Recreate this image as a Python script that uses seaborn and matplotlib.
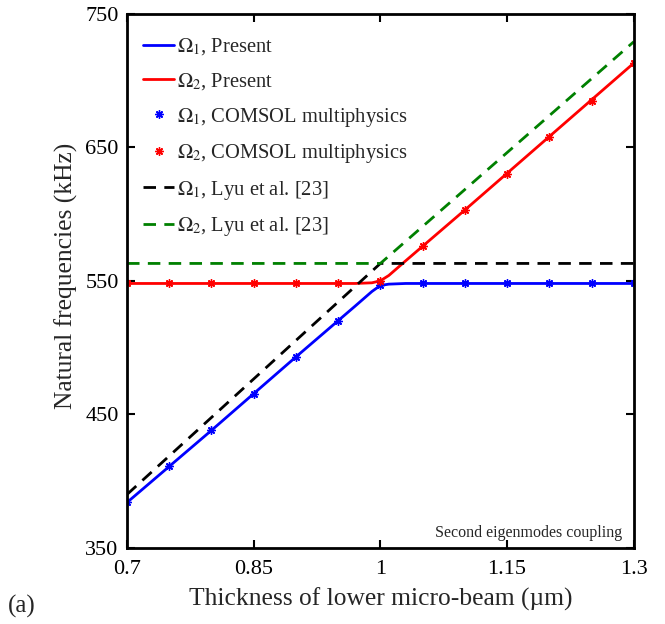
import numpy as np
import matplotlib
matplotlib.use("Agg")
import matplotlib.pyplot as plt
import seaborn as sns

# Thickness of the lower micro-beam (um)
thickness_comsol = [0.7, 0.75, 0.8, 0.85, 0.9, 0.95, 1.0, 1.05, 1.1, 1.15, 1.2, 1.25, 1.3]
omega1_comsol = [384, 411, 438, 465, 493, 520, 547, 548, 548, 548, 548, 548, 548]
omega2_comsol = [548, 548, 548, 548, 548, 548, 550, 576, 603, 630, 658, 685, 713]

thickness_present = [0.7, 0.8, 0.9, 0.97, 0.99, 1.0, 1.01, 1.03, 1.1, 1.2, 1.3]
omega1_present = [384, 438, 493, 531, 542, 546.5, 547.5, 548, 548, 548, 548]
omega2_present = [548, 548, 548, 548, 548.5, 550, 554, 565, 603, 658, 713]

thickness_lyu = [0.7, 1.0, 1.3]
omega1_lyu = [390, 563, 563]
omega2_lyu = [563, 563, 729]

x_ticks = [0.7, 0.85, 1.0, 1.15, 1.3]
x_ticklabels = ["0.7", "0.85", "1", "1.15", "1.3"]
y_ticks = [350, 450, 550, 650, 750]

sns.set_style("ticks")
plt.rcParams["font.family"] = ["Liberation Serif", "DejaVu Serif"]
plt.rcParams["mathtext.fontset"] = "stix"

fig = plt.figure(figsize=(6.65, 6.24), dpi=100)
ax = fig.add_axes([0.191, 0.122, 0.762, 0.856])

star = (8, 2, 0)
sns.lineplot(x=thickness_present, y=omega1_present, ax=ax, color="#0000ff", lw=2,
             label=r"$\Omega_1$, Present", sort=False)
sns.lineplot(x=thickness_present, y=omega2_present, ax=ax, color="#ff0000", lw=2,
             label=r"$\Omega_2$, Present", sort=False)
sns.lineplot(x=thickness_comsol, y=omega1_comsol, ax=ax, color="#0000ff", linestyle="none",
             marker=star, markersize=6, markeredgewidth=1.0, markeredgecolor="#0000ff",
             label=r"$\Omega_1$, COMSOL multiphysics")
sns.lineplot(x=thickness_comsol, y=omega2_comsol, ax=ax, color="#ff0000", linestyle="none",
             marker=star, markersize=6, markeredgewidth=1.0, markeredgecolor="#ff0000",
             label=r"$\Omega_2$, COMSOL multiphysics")
sns.lineplot(x=thickness_lyu, y=omega1_lyu, ax=ax, color="black", lw=2,
             dashes=(4.5, 3), label=r"$\Omega_1$, Lyu et al. [23]")
sns.lineplot(x=thickness_lyu, y=omega2_lyu, ax=ax, color="#008000", lw=2,
             dashes=(4.5, 3), label=r"$\Omega_2$, Lyu et al. [23]")

ax.set_xlim(0.7, 1.3)
ax.set_ylim(350, 750)
ax.set_xticks(x_ticks)
ax.set_xticklabels(x_ticklabels)
ax.set_yticks(y_ticks)
ax.tick_params(direction="in", length=6, width=1.5, top=True, right=True,
               labelsize=16, color="black", labelcolor="black")
ax.tick_params(axis="x", pad=9)
ax.tick_params(axis="y", pad=6)
for sp in ax.spines.values():
    sp.set_visible(True)
    sp.set_linewidth(2)
    sp.set_color("black")

ax.set_xlabel("Thickness of lower micro-beam (\u00b5m)", fontsize=18.4)
ax.set_ylabel("Natural frequencies (kHz)", fontsize=18.4)
ax.xaxis.set_label_coords(0.5, -0.075)
ax.yaxis.set_label_coords(-0.097, 0.51)

leg = ax.legend(loc="upper left", frameon=False, fontsize=14.8, labelspacing=0.66,
                handlelength=1.5, handletextpad=0.15, borderaxespad=0.4,
                bbox_to_anchor=(0.0, 0.988))

ax.text(0.977, 0.012, "Second eigenmodes coupling", transform=ax.transAxes,
        ha="right", va="bottom", fontsize=11.5)
fig.text(0.012, 0.028, "(a)", fontsize=18, ha="left", va="center")

fig.savefig("out.png", dpi=100, facecolor="white")
